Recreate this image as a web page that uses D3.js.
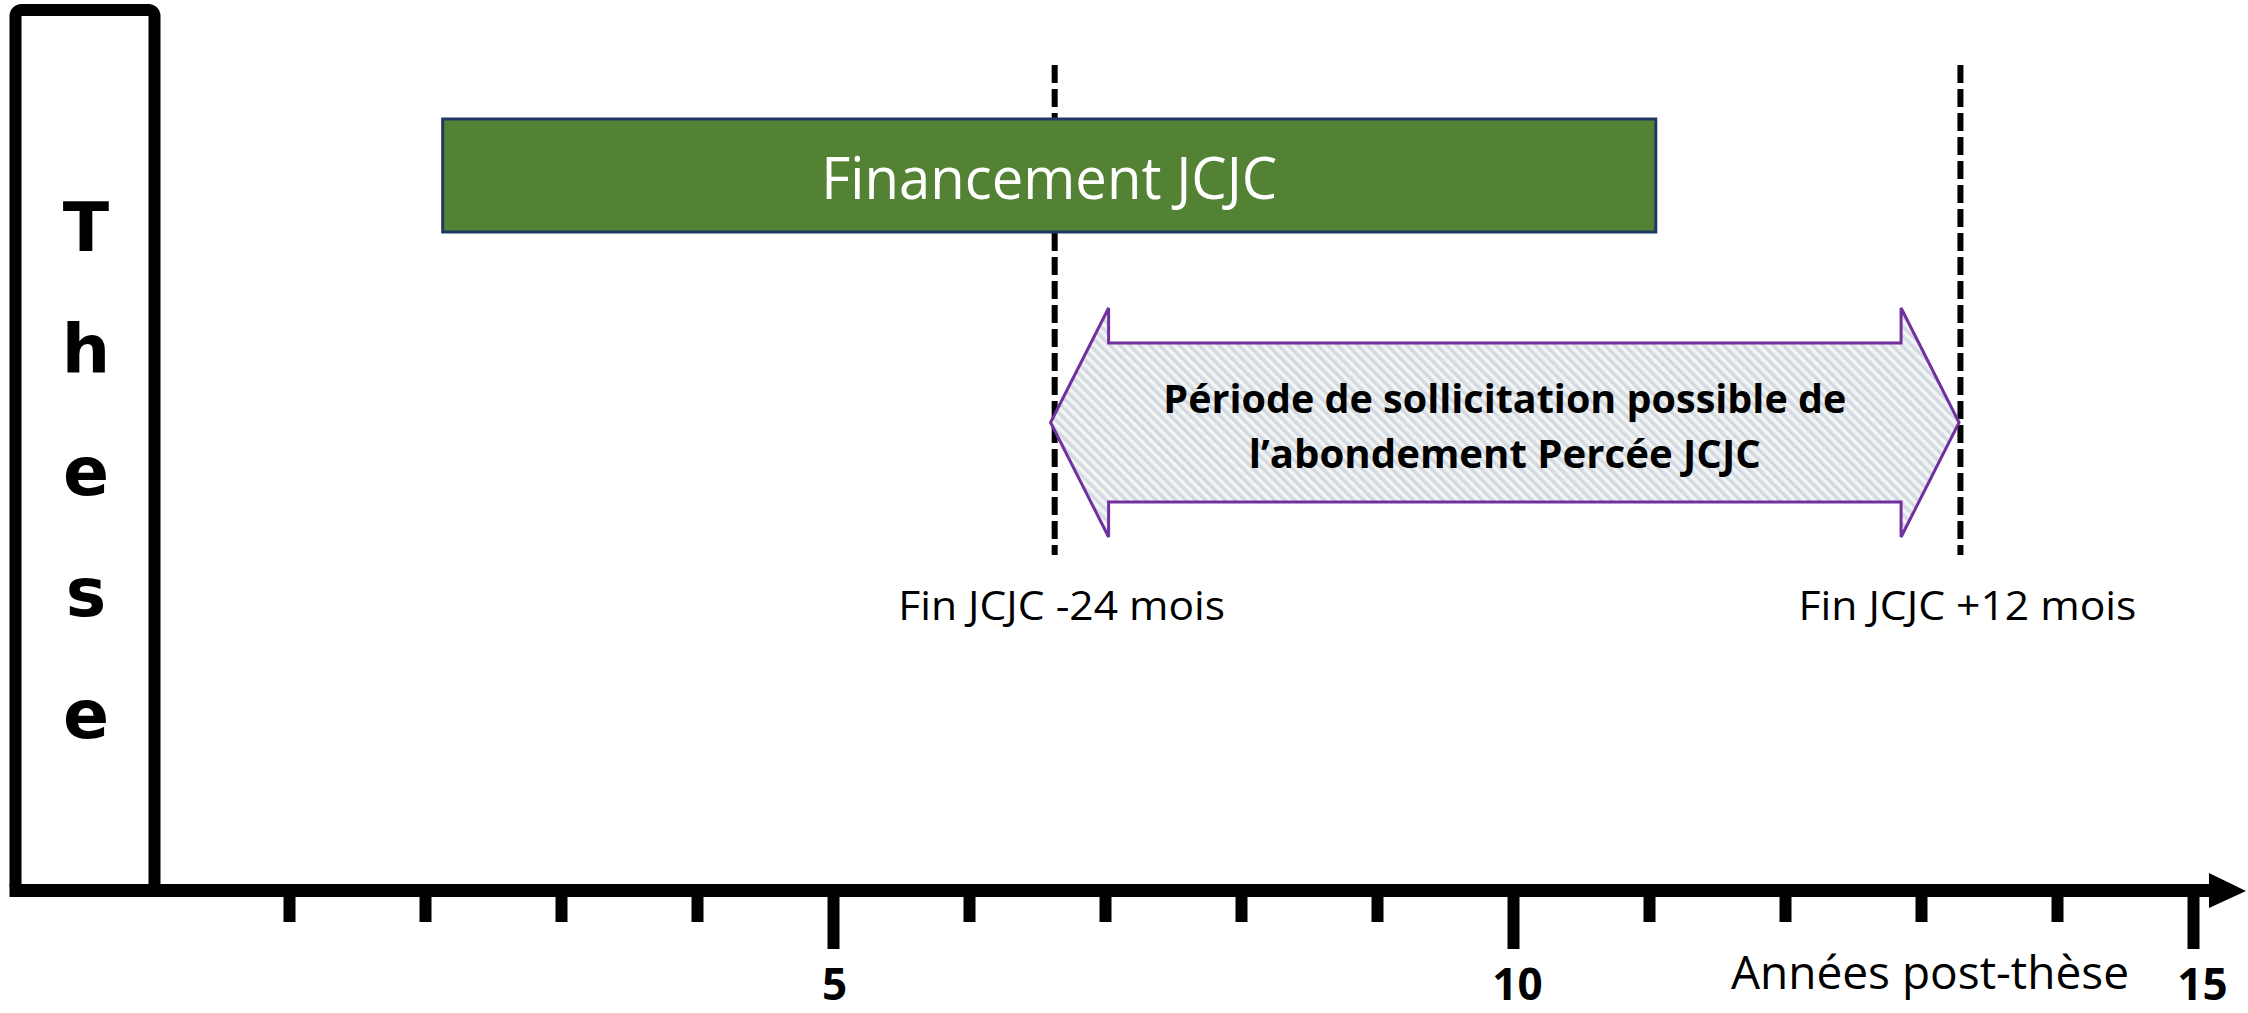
<!DOCTYPE html>
<html>
<head>
<meta charset="utf-8">
<script src="https://cdn.jsdelivr.net/npm/d3@7"></script>
<style>
  html, body { margin: 0; padding: 0; background: #fff; }
  svg { display: block; }
</style>
</head>
<body>
<svg id="chart" width="2248" height="1013"></svg>
<script>
// Data (years after the thesis)
const tickYears = [1, 2, 3, 4, 5, 6, 7, 8, 9, 10, 11, 12, 13, 14, 15];
const majorYears = [5, 10, 15];
const thesisLetters = ["T", "h", "e", "s", "e"];
const barLabels = ["Financement JCJC"];
const barStart = [2.13];
const barEnd = [11.05];
const markerYears = [6.63, 13.29];
const markerLabels = ["Fin JCJC -24 mois", "Fin JCJC +12 mois"];
const windowStart = 6.6;
const windowEnd = 13.28;
const windowLines = ["Période de sollicitation possible de", "l’abondement Percée JCJC"];
const axisTitle = "Années post-thèse";

const svg = d3.select("#chart");
const axisY = 890.5;

const x = d3.scaleLinear()
    .domain([0, 15])
    .range([153, 2193]);

// hatch pattern for the double arrow
const defs = svg.append("defs");
const pat = defs.append("pattern")
    .attr("id", "hatch")
    .attr("patternUnits", "userSpaceOnUse")
    .attr("width", 7)
    .attr("height", 7)
    .attr("patternTransform", "rotate(-45)");
pat.append("rect").attr("width", 7).attr("height", 7).attr("fill", "#f2f6f2");
pat.append("rect").attr("width", 3.5).attr("height", 7).attr("fill", "#d4d8e2");

// dashed marker lines (behind the bar)
svg.selectAll(".marker")
    .data(markerYears)
    .enter().append("line")
    .attr("class", "marker")
    .attr("x1", d => x(d))
    .attr("x2", d => x(d))
    .attr("y1", 65)
    .attr("y2", 555)
    .attr("stroke", "#000")
    .attr("stroke-width", 6)
    .attr("stroke-dasharray", "18,6");

svg.selectAll(".marker-label")
    .data(markerLabels)
    .enter().append("text")
    .attr("class", "marker-label")
    .attr("x", (d, i) => x(markerYears[i]) + 7)
    .attr("y", 620)
    .attr("text-anchor", "middle")
    .attr("font-family", "Open Sans")
    .attr("font-size", 41)
    .attr("textLength", (d, i) => i === 0 ? 327 : 338)
    .attr("lengthAdjust", "spacingAndGlyphs")
    .attr("fill", "#000")
    .text(d => d);

// funding bar
svg.selectAll(".bar")
    .data(barLabels)
    .enter().append("rect")
    .attr("class", "bar")
    .attr("x", (d, i) => x(barStart[i]))
    .attr("width", (d, i) => x(barEnd[i]) - x(barStart[i]))
    .attr("y", 119)
    .attr("height", 113)
    .attr("fill", "#548235")
    .attr("stroke", "#1f3864")
    .attr("stroke-width", 3);

svg.selectAll(".bar-label")
    .data(barLabels)
    .enter().append("text")
    .attr("class", "bar-label")
    .attr("x", (d, i) => (x(barStart[i]) + x(barEnd[i])) / 2)
    .attr("y", 199)
    .attr("text-anchor", "middle")
    .attr("font-family", "Open Sans")
    .attr("font-size", 58)
    .attr("textLength", 456)
    .attr("lengthAdjust", "spacingAndGlyphs")
    .attr("fill", "#fff")
    .text(d => d);

// double arrow for the request window
const x0 = x(windowStart), x1 = x(windowEnd);
const head = 58, cy = 422.5, halfHead = 114.5, halfShaft = 79.5;
const arrowPts = [
    [x0, cy], [x0 + head, cy - halfHead], [x0 + head, cy - halfShaft],
    [x1 - head, cy - halfShaft], [x1 - head, cy - halfHead], [x1, cy],
    [x1 - head, cy + halfHead], [x1 - head, cy + halfShaft],
    [x0 + head, cy + halfShaft], [x0 + head, cy + halfHead]
];
svg.append("path")
    .attr("d", d3.line()(arrowPts) + "Z")
    .attr("fill", "url(#hatch)")
    .attr("stroke", "#7030a0")
    .attr("stroke-width", 3)
    .attr("stroke-linejoin", "miter");

svg.selectAll(".window-label")
    .data(windowLines)
    .enter().append("text")
    .attr("class", "window-label")
    .attr("x", (x0 + x1) / 2)
    .attr("y", (d, i) => 413 + i * 55)
    .attr("text-anchor", "middle")
    .attr("font-family", "Open Sans")
    .attr("font-weight", "bold")
    .attr("font-size", 40)
    .attr("textLength", (d, i) => i === 0 ? 683 : 512)
    .attr("lengthAdjust", "spacingAndGlyphs")
    .attr("fill", "#000")
    .text(d => d);

// thesis box
svg.append("rect")
    .attr("x", 15.5)
    .attr("y", 10)
    .attr("width", 139)
    .attr("height", axisY - 10)
    .attr("rx", 6)
    .attr("fill", "none")
    .attr("stroke", "#000")
    .attr("stroke-width", 12);

svg.selectAll(".thesis")
    .data(thesisLetters)
    .enter().append("text")
    .attr("class", "thesis")
    .attr("x", 86)
    .attr("y", (d, i) => 251 + i * 121.8)
    .attr("text-anchor", "middle")
    .attr("font-family", "DejaVu Sans")
    .attr("font-weight", "bold")
    .attr("font-size", 68)
    .attr("fill", "#000")
    .text(d => d);

// time axis
svg.append("line")
    .attr("x1", 9.5)
    .attr("x2", 2212)
    .attr("y1", axisY)
    .attr("y2", axisY)
    .attr("stroke", "#000")
    .attr("stroke-width", 13);

svg.append("path")
    .attr("d", "M2209,873L2246,891L2209,908Z")
    .attr("fill", "#000");

const minorAxis = svg.append("g")
    .attr("transform", `translate(0, ${axisY})`)
    .call(d3.axisBottom(x)
        .tickValues(tickYears.filter(d => !majorYears.includes(d)))
        .tickSize(31.5)
        .tickFormat(""));

const majorAxis = svg.append("g")
    .attr("transform", `translate(0, ${axisY})`)
    .call(d3.axisBottom(x)
        .tickValues(majorYears)
        .tickSize(58.5)
        .tickFormat(d3.format("d")));

svg.selectAll(".domain").remove();
svg.selectAll(".tick line")
    .attr("stroke", "#000")
    .attr("stroke-width", 12);

majorAxis.selectAll(".tick text")
    .attr("x", d => d === 15 ? 9 : d === 5 ? 1 : 4)
    .attr("y", 1000 - axisY)
    .attr("dy", null)
    .attr("fill", "#000")
    .attr("font-family", "Open Sans")
    .attr("font-weight", "bold")
    .attr("font-size", 44);

svg.append("text")
    .attr("x", 1731)
    .attr("y", 989)
    .attr("font-family", "Open Sans")
    .attr("font-size", 46)
    .attr("textLength", 398)
    .attr("lengthAdjust", "spacingAndGlyphs")
    .attr("fill", "#000")
    .text(axisTitle);
</script>
</body>
</html>
